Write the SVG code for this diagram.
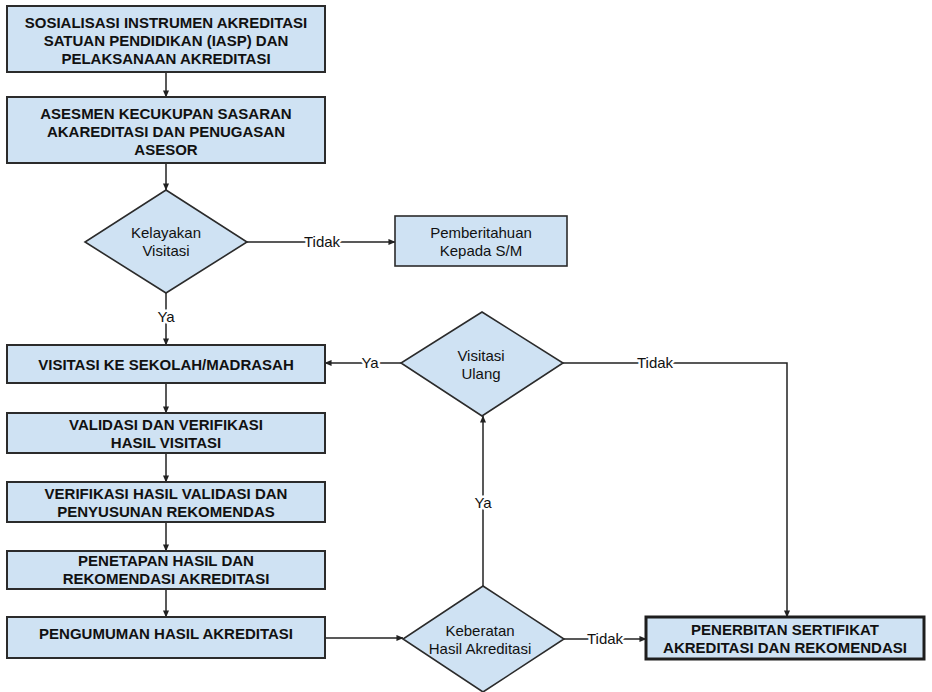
<svg xmlns="http://www.w3.org/2000/svg" width="932" height="692" viewBox="0 0 932 692">
<defs>
<marker id="arr" viewBox="0 0 8 8" refX="7.5" refY="4" markerWidth="7" markerHeight="7" markerUnits="userSpaceOnUse" orient="auto">
<path d="M0,0.5 L8,4 L0,7.5 z" fill="#222"/>
</marker>
</defs>
<style>
.box{fill:#cfe2f3;stroke:#2b2b2b;stroke-width:2}
.box8{fill:#cfe2f3;stroke:#1e1e1e;stroke-width:3}
.dia{fill:#cfe2f3;stroke:#2b2b2b;stroke-width:1.6}
.sm{fill:#cfe2f3;stroke:#2b2b2b;stroke-width:1.6}
.bt{font-family:"Liberation Sans",Arial,sans-serif;font-weight:bold;font-size:15px;fill:#111;text-anchor:middle}
.rt{font-family:"Liberation Sans",Arial,sans-serif;font-size:15px;fill:#111;text-anchor:middle}
.lbl{font-family:"Liberation Sans",Arial,sans-serif;font-size:15px;fill:#111;text-anchor:middle;stroke:#fff;stroke-width:5px;paint-order:stroke;stroke-linejoin:round}
.ln{fill:none;stroke:#222;stroke-width:1.5}
</style>
<rect width="932" height="692" fill="#fff"/>

<g id="connectors">
<path class="ln" d="M166,72 V97" marker-end="url(#arr)"/>
<path class="ln" d="M166,163 V190" marker-end="url(#arr)"/>
<path class="ln" d="M247,242 H395" marker-end="url(#arr)"/>
<path class="ln" d="M166,293 V345" marker-end="url(#arr)"/>
<path class="ln" d="M166,383 V413" marker-end="url(#arr)"/>
<path class="ln" d="M166,453 V482" marker-end="url(#arr)"/>
<path class="ln" d="M166,522 V551" marker-end="url(#arr)"/>
<path class="ln" d="M166,589 V617" marker-end="url(#arr)"/>
<path class="ln" d="M325,638 H403" marker-end="url(#arr)"/>
<path class="ln" d="M483,586 V416" marker-end="url(#arr)"/>
<path class="ln" d="M401,363 H325" marker-end="url(#arr)"/>
<path class="ln" d="M563,363 H787 V617" marker-end="url(#arr)"/>
<path class="ln" d="M564,639 H646" marker-end="url(#arr)"/>
<text class="lbl" x="322" y="247">Tidak</text>
<text class="lbl" x="166" y="322">Ya</text>
<text class="lbl" x="370" y="368">Ya</text>
<text class="lbl" x="655" y="368">Tidak</text>
<text class="lbl" x="483" y="508">Ya</text>
<text class="lbl" x="605" y="644">Tidak</text>
</g>

<g id="n1">
<rect class="box" x="7" y="6" width="318" height="66"/>
<text class="bt" x="166" y="28">SOSIALISASI INSTRUMEN AKREDITASI</text>
<text class="bt" x="166" y="46">SATUAN PENDIDIKAN (IASP) DAN</text>
<text class="bt" x="166" y="64">PELAKSANAAN AKREDITASI</text>
</g>

<g id="n2">
<rect class="box" x="7" y="97" width="318" height="66"/>
<text class="bt" x="166" y="119">ASESMEN KECUKUPAN SASARAN</text>
<text class="bt" x="166" y="137">AKAREDITASI DAN PENUGASAN</text>
<text class="bt" x="166" y="155">ASESOR</text>
</g>

<g id="d1">
<polygon class="dia" points="166,190 247,242 166,293 85,242"/>
<text class="rt" x="166" y="238">Kelayakan</text>
<text class="rt" x="166" y="256">Visitasi</text>
</g>

<g id="n_pemberitahuan">
<rect class="sm" x="395" y="216" width="172" height="50"/>
<text class="rt" x="481" y="238">Pemberitahuan</text>
<text class="rt" x="481" y="256">Kepada S/M</text>
</g>

<g id="n3">
<rect class="box" x="7" y="345" width="318" height="38"/>
<text class="bt" x="166" y="370">VISITASI KE SEKOLAH/MADRASAH</text>
</g>

<g id="n4">
<rect class="box" x="7" y="413" width="318" height="40"/>
<text class="bt" x="166" y="430">VALIDASI DAN VERIFIKASI</text>
<text class="bt" x="166" y="447.5">HASIL VISITASI</text>
</g>

<g id="n5">
<rect class="box" x="7" y="482" width="318" height="40"/>
<text class="bt" x="166" y="499">VERIFIKASI HASIL VALIDASI DAN</text>
<text class="bt" x="166" y="516.5">PENYUSUNAN REKOMENDAS</text>
</g>

<g id="n6">
<rect class="box" x="7" y="551" width="318" height="38"/>
<text class="bt" x="166" y="566">PENETAPAN HASIL DAN</text>
<text class="bt" x="166" y="583.5">REKOMENDASI AKREDITASI</text>
</g>

<g id="n7">
<rect class="box" x="7" y="617" width="318" height="41"/>
<text class="bt" x="166" y="639">PENGUMUMAN HASIL AKREDITASI</text>
</g>

<g id="d2">
<polygon class="dia" points="482,312 563,363 482,416 401,363"/>
<text class="rt" x="481" y="361">Visitasi</text>
<text class="rt" x="481" y="379">Ulang</text>
</g>

<g id="d3">
<polygon class="dia" points="483,586 564,639 483,692 403,639"/>
<text class="rt" x="480" y="636">Keberatan</text>
<text class="rt" x="480" y="654">Hasil Akreditasi</text>
</g>

<g id="n8">
<rect class="box8" x="646" y="617" width="278" height="42"/>
<text class="bt" x="785" y="635">PENERBITAN SERTIFIKAT</text>
<text class="bt" x="785" y="653">AKREDITASI DAN REKOMENDASI</text>
</g>
</svg>
